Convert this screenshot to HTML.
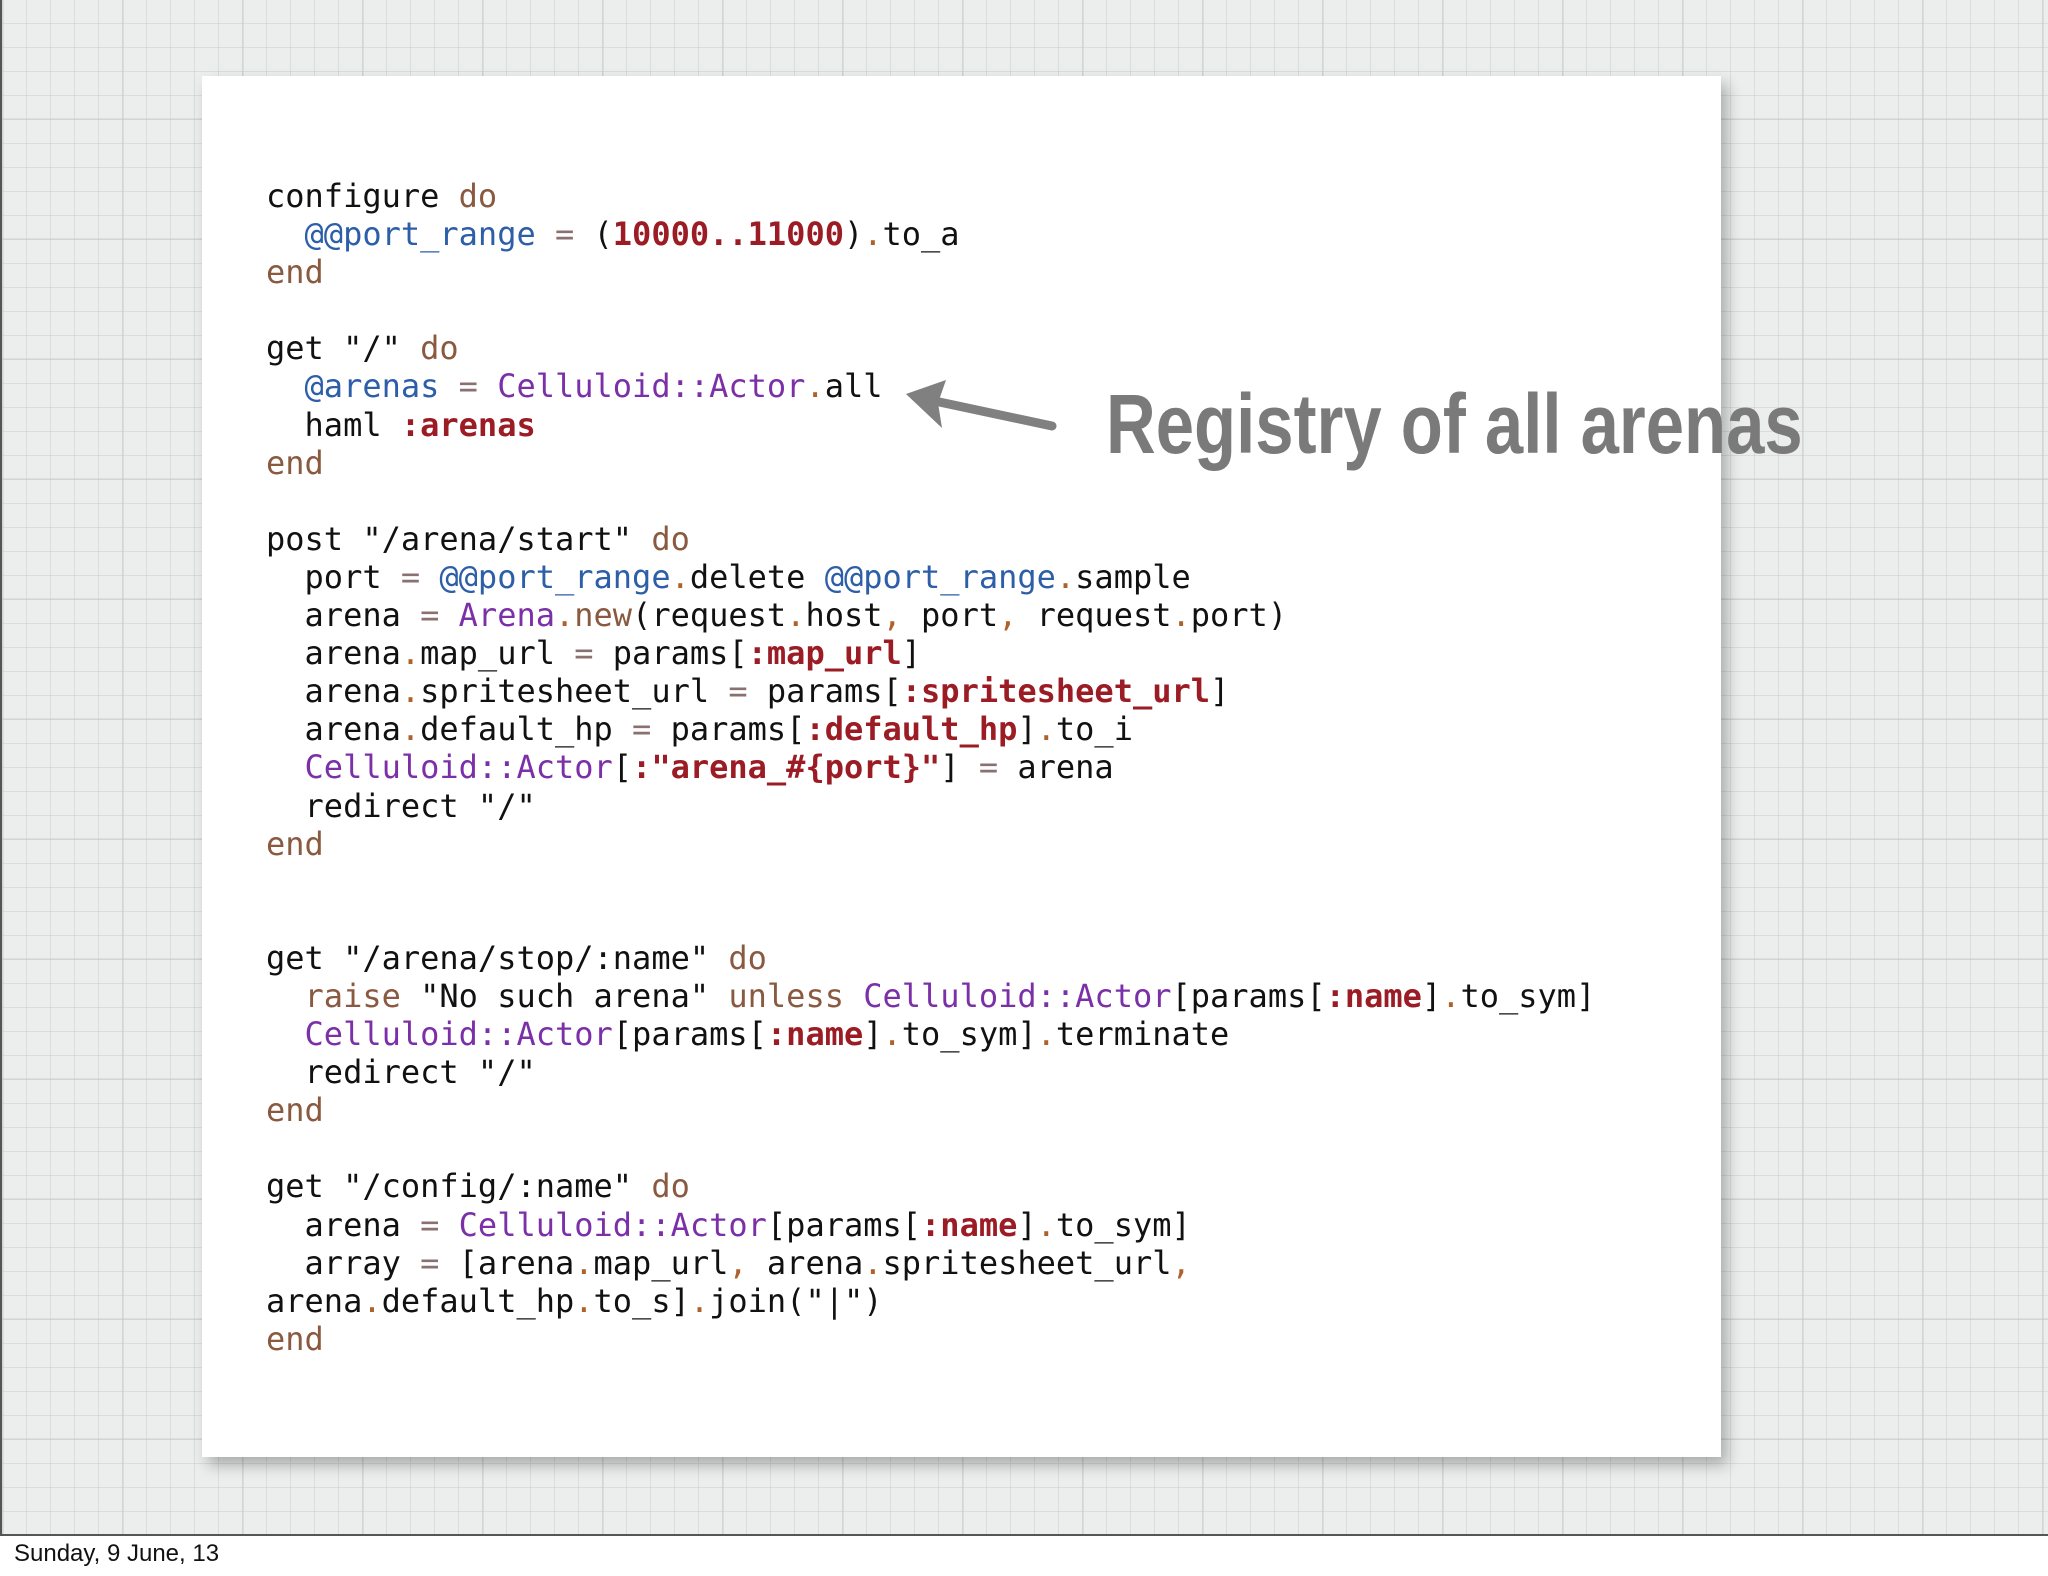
<!DOCTYPE html>
<html><head><meta charset="utf-8"><style>
body{margin:0;width:2048px;height:1576px;background:#fff;position:relative;overflow:hidden}
#slide{position:absolute;left:0;top:0;width:2046px;height:1534px;border-left:2px solid #555;border-bottom:2px solid #555;
background-color:#eceeee;
background-image:linear-gradient(90deg,rgba(195,203,203,.5) 1px,transparent 1px),linear-gradient(0deg,rgba(195,203,203,.5) 1px,transparent 1px),
linear-gradient(90deg,rgba(170,180,180,.25) 2px,transparent 2px),linear-gradient(0deg,rgba(170,180,180,.25) 2px,transparent 2px);
background-size:24px 24px,24px 24px,120px 120px,120px 120px}
#card{position:absolute;left:202px;top:76px;width:1519px;height:1381px;background:#fff;box-shadow:6px 8px 14px rgba(0,0,0,.28)}
pre{position:absolute;left:266px;top:177px;margin:0;font-family:"DejaVu Sans Mono","Liberation Mono",monospace;font-size:32px;line-height:38.1px;color:#111}
.k{color:#8a5a40}.i{color:#2d5ea8}.c{color:#7b30a8}.s{color:#9b1c24;font-weight:bold}.d{color:#b0602a}.o{color:#8a7070}
#note{position:absolute;left:1106px;top:376px;font-family:"Liberation Sans",sans-serif;font-weight:bold;font-size:84px;color:#7a7a7a;transform:scaleX(.82);transform-origin:left;white-space:nowrap}
#foot{position:absolute;left:14px;top:1540px;font-family:"Liberation Sans",sans-serif;font-size:24px;color:#111}
</style></head><body>
<div id="slide"></div>
<div id="card"></div>
<pre>configure <span class="k">do</span>
  <span class="i">@@port_range</span> <span class="o">=</span> (<span class="s">10000..11000</span>)<span class="d">.</span>to_a
<span class="k">end</span>

get "/" <span class="k">do</span>
  <span class="i">@arenas</span> <span class="o">=</span> <span class="c">Celluloid::Actor</span><span class="d">.</span>all
  haml <span class="s">:arenas</span>
<span class="k">end</span>

post "/arena/start" <span class="k">do</span>
  port <span class="o">=</span> <span class="i">@@port_range</span><span class="d">.</span>delete <span class="i">@@port_range</span><span class="d">.</span>sample
  arena <span class="o">=</span> <span class="c">Arena</span><span class="d">.</span><span class="k">new</span>(request<span class="d">.</span>host<span class="d">,</span> port<span class="d">,</span> request<span class="d">.</span>port)
  arena<span class="d">.</span>map_url <span class="o">=</span> params[<span class="s">:map_url</span>]
  arena<span class="d">.</span>spritesheet_url <span class="o">=</span> params[<span class="s">:spritesheet_url</span>]
  arena<span class="d">.</span>default_hp <span class="o">=</span> params[<span class="s">:default_hp</span>]<span class="d">.</span>to_i
  <span class="c">Celluloid::Actor</span>[<span class="s">:"arena_#{port}"</span>] <span class="o">=</span> arena
  redirect "/"
<span class="k">end</span>


get "/arena/stop/:name" <span class="k">do</span>
  <span class="k">raise</span> "No such arena" <span class="k">unless</span> <span class="c">Celluloid::Actor</span>[params[<span class="s">:name</span>]<span class="d">.</span>to_sym]
  <span class="c">Celluloid::Actor</span>[params[<span class="s">:name</span>]<span class="d">.</span>to_sym]<span class="d">.</span>terminate
  redirect "/"
<span class="k">end</span>

get "/config/:name" <span class="k">do</span>
  arena <span class="o">=</span> <span class="c">Celluloid::Actor</span>[params[<span class="s">:name</span>]<span class="d">.</span>to_sym]
  array <span class="o">=</span> [arena<span class="d">.</span>map_url<span class="d">,</span> arena<span class="d">.</span>spritesheet_url<span class="d">,</span>
arena<span class="d">.</span>default_hp<span class="d">.</span>to_s]<span class="d">.</span>join("|")
<span class="k">end</span></pre>
<svg style="position:absolute;left:0;top:0" width="2048" height="1576">
<path d="M1052 426 L930 400" stroke="#808080" stroke-width="9" stroke-linecap="round"/>
<path d="M906 394 L946 380 L938 403 L942 428 Z" fill="#808080"/>
</svg>
<div id="note">Registry of all arenas</div>
<div id="foot">Sunday, 9 June, 13</div>
</body></html>
